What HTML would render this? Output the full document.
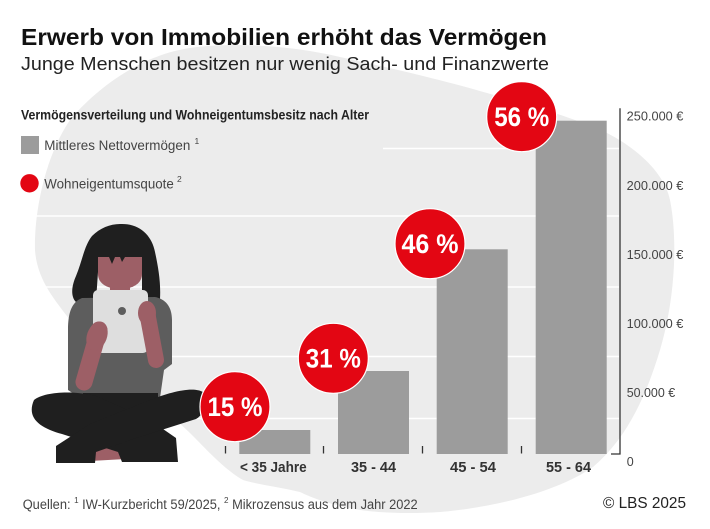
<!DOCTYPE html>
<html>
<head>
<meta charset="utf-8">
<style>
  html, body { margin: 0; padding: 0; background: #ffffff; }
  svg { display: block; }
  text { font-family: "Liberation Sans", sans-serif; }
</style>
</head>
<body>
<svg width="710" height="529" viewBox="0 0 710 529" xmlns="http://www.w3.org/2000/svg">
  <rect x="0" y="0" width="710" height="529" fill="#ffffff"/>

  <!-- background blob -->
  <path d="M35,250 C34,215 44,158 70,120 C95,90 140,55 190,48 C230,42 290,45 340,57 C400,70 450,82 487,93 C540,108 580,120 607,133 C640,150 665,175 670,200 C678,240 675,300 660,350 C645,400 625,440 593,467 C560,490 500,507 440,512 C410,514 380,513 360,510 C330,505 310,497 300,492 C280,487 255,484 243,480 C225,470 205,448 190,433 C150,395 100,350 70,320 C55,300 37,280 35,250 Z" fill="#ececec"/>

  <!-- white grid lines -->
  <g stroke="#ffffff" stroke-width="1.5">
    <line x1="383" y1="148.5" x2="619" y2="148.5"/>
    <line x1="0" y1="216" x2="619" y2="216"/>
    <line x1="0" y1="287" x2="619" y2="287"/>
    <line x1="0" y1="356.5" x2="619" y2="356.5"/>
    <line x1="0" y1="418.5" x2="619" y2="418.5"/>
  </g>

  <!-- girl figure -->
  <g>
    <!-- hair -->
    <path d="M120,224 C140,223 152,236 155,252 C158,266 161,282 160,299 L142,299 L142,272 L98,272 L96,301 L76,302 C70,296 72,285 76,276 C82,262 84,246 92,236 C100,228 110,224 120,224 Z" fill="#1f1f1f"/>
    <!-- neck -->
    <rect x="110" y="282" width="20" height="14" fill="#9d5f66"/>
    <!-- face -->
    <path d="M98,255 L142,255 L142,274 C142,284 132,289 120,289 C108,289 98,284 98,274 Z" fill="#9d5f66"/>
    <!-- bangs -->
    <path d="M96,246 L144,246 L144,257 L125,257 L122,262 L120,257 L115,257 L112,264 L109,257 L96,257 Z" fill="#1f1f1f"/>
    <!-- shirt -->
    <path d="M82,298 C72,302 68,312 68,330 L68,390 L80,398 L160,398 L164,370 L172,364 L172,320 C172,306 165,299 155,297 Z" fill="#5d5d5d"/>
    <!-- tablet -->
    <rect x="93" y="290" width="55" height="63" rx="5" ry="5" fill="#dedede"/>
    <circle cx="122" cy="311" r="4" fill="#5d5d5d"/>
    <!-- arms / hands -->
    <line x1="99" y1="330" x2="84" y2="382" stroke="#9d5f66" stroke-width="17" stroke-linecap="round"/>
    <ellipse cx="97" cy="336" rx="10" ry="15" fill="#9d5f66" transform="rotate(20 97 336)"/>
    <line x1="147" y1="312" x2="156" y2="360" stroke="#9d5f66" stroke-width="16" stroke-linecap="round"/>
    <ellipse cx="147" cy="313" rx="9" ry="12" fill="#9d5f66"/>
    <!-- lower torso -->
    <rect x="83" y="393" width="75" height="24" fill="#1f1f1f"/>
    <!-- mauve ankle -->
    <path d="M90,444 L121,444 L126,459 L90,461 Z" fill="#9d5f66"/>
    <!-- leg A: left thigh to right foot -->
    <path d="M34,400 C44,392 72,390 96,396 L150,420 L176,438 L178,462 L122,462 L118,452 L62,434 C40,428 26,418 34,400 Z" fill="#1f1f1f"/>
    <!-- leg B: right thigh to left foot -->
    <path d="M203,392 C209,400 205,414 196,419 L130,440 L96,452 L95,463 L56,463 L56,446 L90,424 L150,400 C170,392 193,386 203,392 Z" fill="#1f1f1f"/>
  </g>

  <!-- bars -->
  <g fill="#9c9c9c">
    <rect x="239.3" y="430" width="71" height="24"/>
    <rect x="338" y="371" width="71" height="83"/>
    <rect x="436.7" y="249.3" width="71" height="204.7"/>
    <rect x="535.7" y="120.7" width="71" height="333.3"/>
  </g>

  <!-- category ticks -->
  <g stroke="#333333" stroke-width="1.3">
    <line x1="225.5" y1="446" x2="225.5" y2="453.5"/>
    <line x1="323.5" y1="446" x2="323.5" y2="453.5"/>
    <line x1="422.5" y1="446" x2="422.5" y2="453.5"/>
    <line x1="521.5" y1="446" x2="521.5" y2="453.5"/>
  </g>

  <!-- axis -->
  <g stroke="#333333" stroke-width="1.3" fill="none">
    <polyline points="620,108.3 620,454 611,454"/>
  </g>

  <!-- axis labels -->
  <g fill="#444444" font-size="12.5">
    <text x="626.7" y="120.5" textLength="56.7" lengthAdjust="spacingAndGlyphs">250.000 €</text>
    <text x="626.7" y="189.8" textLength="56.7" lengthAdjust="spacingAndGlyphs">200.000 €</text>
    <text x="626.7" y="258.8" textLength="56.7" lengthAdjust="spacingAndGlyphs">150.000 €</text>
    <text x="626.7" y="328.2" textLength="56.7" lengthAdjust="spacingAndGlyphs">100.000 €</text>
    <text x="626.7" y="397.2" textLength="48.5" lengthAdjust="spacingAndGlyphs">50.000 €</text>
    <text x="626.7" y="466.2">0</text>
  </g>

  <!-- circles -->
  <g fill="#e30613" stroke="#ffffff" stroke-width="1.2">
    <circle cx="235" cy="406.7" r="35"/>
    <circle cx="333.3" cy="358.3" r="35"/>
    <circle cx="430" cy="243.7" r="35"/>
    <circle cx="521.7" cy="116.7" r="35"/>
  </g>
  <g fill="#ffffff" font-size="27" font-weight="bold" text-anchor="middle">
    <text x="235" y="416" textLength="55" lengthAdjust="spacingAndGlyphs">15 %</text>
    <text x="333.3" y="367.5" textLength="55" lengthAdjust="spacingAndGlyphs">31 %</text>
    <text x="430" y="253" textLength="57" lengthAdjust="spacingAndGlyphs">46 %</text>
    <text x="521.7" y="126" textLength="55" lengthAdjust="spacingAndGlyphs">56 %</text>
  </g>

  <!-- category labels -->
  <g fill="#333333" font-size="14.5" font-weight="bold">
    <text x="240" y="472" textLength="66.7" lengthAdjust="spacingAndGlyphs">&lt; 35 Jahre</text>
    <text x="351" y="472" textLength="45" lengthAdjust="spacingAndGlyphs">35 - 44</text>
    <text x="450" y="472" textLength="46" lengthAdjust="spacingAndGlyphs">45 - 54</text>
    <text x="546" y="472" textLength="45" lengthAdjust="spacingAndGlyphs">55 - 64</text>
  </g>

  <!-- title and subtitle -->
  <text x="21" y="45" font-size="23.5" font-weight="bold" fill="#111111" textLength="526" lengthAdjust="spacingAndGlyphs">Erwerb von Immobilien erhöht das Vermögen</text>
  <text x="21" y="70" font-size="18.5" fill="#222222" textLength="528" lengthAdjust="spacingAndGlyphs">Junge Menschen besitzen nur wenig Sach- und Finanzwerte</text>

  <!-- chart heading -->
  <text x="21" y="119.3" font-size="13.5" font-weight="bold" fill="#222222" textLength="348" lengthAdjust="spacingAndGlyphs">Vermögensverteilung und Wohneigentumsbesitz nach Alter</text>

  <!-- legend -->
  <rect x="21" y="136" width="18" height="18" fill="#9c9c9c"/>
  <text x="44.3" y="150" font-size="13.5" fill="#444444" textLength="146" lengthAdjust="spacingAndGlyphs">Mittleres Nettovermögen</text>
  <text x="194.5" y="144" font-size="8.5" fill="#444444">1</text>
  <circle cx="29.5" cy="183.3" r="9.2" fill="#e30613"/>
  <text x="44.3" y="188.3" font-size="13.5" fill="#444444" textLength="129.5" lengthAdjust="spacingAndGlyphs">Wohneigentumsquote</text>
  <text x="177" y="182" font-size="8.5" fill="#444444">2</text>

  <!-- footer -->
  <text x="22.7" y="509" font-size="13.5" fill="#444444" textLength="395" lengthAdjust="spacingAndGlyphs">Quellen: <tspan font-size="8.5" dy="-6">1</tspan><tspan dy="6"> IW-Kurzbericht 59/2025, </tspan><tspan font-size="8.5" dy="-6">2</tspan><tspan dy="6"> Mikrozensus aus dem Jahr 2022</tspan></text>
  <text x="603" y="508" font-size="16" fill="#222222" textLength="83" lengthAdjust="spacingAndGlyphs">© LBS 2025</text>
</svg>
</body>
</html>
